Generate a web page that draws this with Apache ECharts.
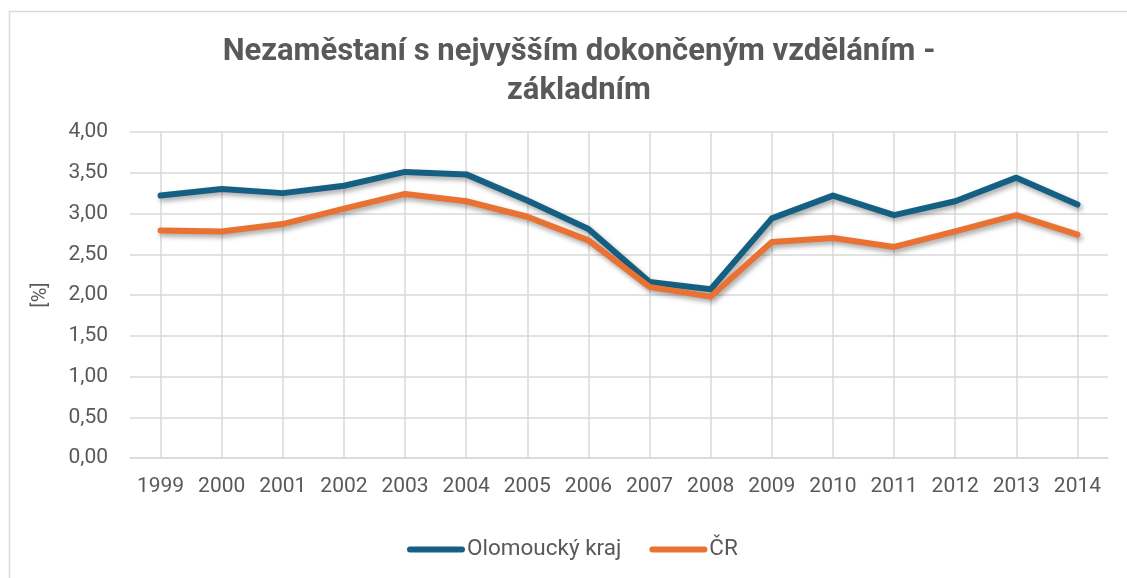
<!DOCTYPE html>
<html>
<head>
<meta charset="utf-8">
<script src="https://cdn.jsdelivr.net/npm/echarts@6/dist/echarts.min.js"></script>
<style>
html,body{margin:0;padding:0;background:#fff;}
#chart{width:1127px;height:578px;}
</style>
</head>
<body>
<div id="chart"></div>
<script>
const years = ['1999','2000','2001','2002','2003','2004','2005','2006','2007','2008','2009','2010','2011','2012','2013','2014'];
const olomoucky = [3.22,3.30,3.25,3.34,3.51,3.48,3.16,2.81,2.16,2.07,2.94,3.22,2.98,3.15,3.44,3.11];
const cr = [2.79,2.78,2.87,3.06,3.24,3.15,2.96,2.67,2.10,1.98,2.65,2.70,2.59,2.78,2.98,2.74];
const seriesNames = ['Olomoucký kraj','ČR'];
const titleText = 'Nezaměstaní s nejvyšším dokončeným vzděláním -\nzákladním';
const yAxisName = '[%]';

const grey = '#595959';
const gridGrey = '#d9d9d9';
const font = 'Roboto';
const chart = echarts.init(document.getElementById('chart'));
const lineShadow = {shadowColor:'rgba(0,0,0,0.35)', shadowBlur:5, shadowOffsetX:2, shadowOffsetY:3};
const legendIcon = 'path://M0,3 A3,3 0 0 1 3,0 L55,0 A3,3 0 0 1 55,6 L3,6 A3,3 0 0 1 0,3 Z';

chart.setOption({
  animation:false,
  backgroundColor:'#fff',
  textStyle:{fontFamily:font},
  graphic:[{type:'rect', z:-10, silent:true,
    shape:{x:9.5, y:11.5, width:1200, height:700},
    style:{fill:'none', stroke:gridGrey, lineWidth:1.5}}],
  title:{
    text:titleText, left:574, textAlign:'center', top:28,
    textStyle:{fontSize:31, fontWeight:'bold', color:grey, lineHeight:39, fontFamily:font}
  },
  legend:{
    left:402, top:533, itemWidth:58, itemHeight:6, itemGap:28,
    icon:legendIcon,
    textStyle:{fontSize:22.5, color:grey, fontFamily:font, padding:[0,0,0,-3]},
    data:seriesNames
  },
  grid:{left:130, right:19, top:132, bottom:120},
  xAxis:{
    type:'category', data:years, boundaryGap:true,
    axisLine:{show:true, lineStyle:{color:gridGrey, width:1.5}},
    axisTick:{show:false},
    axisLabel:{fontSize:21, color:grey, margin:18, fontFamily:font, interval:0},
    splitLine:{show:true, alignWithLabel:true, lineStyle:{color:gridGrey, width:1.5}}
  },
  yAxis:{
    type:'value', min:0, max:4, interval:0.5,
    name:yAxisName, nameLocation:'middle', nameGap:79, nameRotate:90,
    nameTextStyle:{fontSize:20, color:grey, fontFamily:font},
    axisLine:{show:false}, axisTick:{show:false},
    axisLabel:{fontSize:21, color:grey, margin:22, fontFamily:font,
      formatter:v=>v.toFixed(2).replace('.',',')},
    splitLine:{lineStyle:{color:gridGrey, width:1.5}}
  },
  series:[
    {name:seriesNames[0], type:'line', data:olomoucky, symbol:'none',
      color:'#156082',
      lineStyle:Object.assign({width:6, color:'#156082', cap:'round', join:'round'}, lineShadow)},
    {name:seriesNames[1], type:'line', data:cr, symbol:'none',
      color:'#E97132',
      lineStyle:Object.assign({width:6, color:'#E97132', cap:'round', join:'round'}, lineShadow)}
  ]
});
</script>
</body>
</html>
